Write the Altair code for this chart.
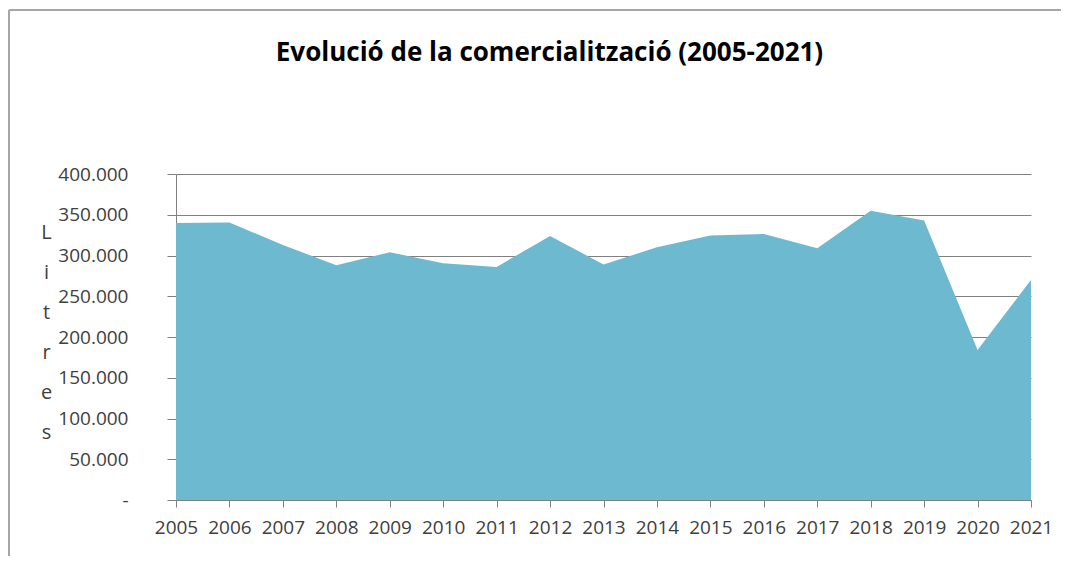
import altair as alt
import pandas as pd

years = list(range(2005, 2022))
litres = [340000, 340500, 313000, 288000, 304000, 290500, 286000, 324000, 289000,
          310000, 324500, 326500, 309000, 355000, 343000, 184000, 270000]
y_ticks = [0, 50000, 100000, 150000, 200000, 250000, 300000, 350000, 400000]
title_text = "Evolució de la comercialització (2005-2021)"
y_title = ["L", "i", "t", "r", "e", "s"]

df = pd.DataFrame({"year": years, "litres": litres})

FONT = "Open Sans"
TXT = "#404040"

area = alt.Chart(df).mark_area(color="#6cb9d0", opacity=1, interpolate="linear").encode(
    x=alt.X("year:Q",
            scale=alt.Scale(domain=[2005, 2021], nice=False, zero=False),
            axis=alt.Axis(values=years, format="d", title=None, grid=False,
                          labelFont=FONT, labelFontSize=19, labelColor=TXT,
                          labelPadding=11, tickSize=7, tickColor="#808080",
                          domainColor="#808080", labelFlush=False,
                          labelOverlap=False)),
    y=alt.Y("litres:Q",
            scale=alt.Scale(domain=[0, 400000], nice=False),
            axis=alt.Axis(values=y_ticks, title=y_title, titleAngle=0,
                          titleX=-130, titleY=64, titleAlign="center",
                          titleBaseline="alphabetic", titleLineHeight=40,
                          titleFont=FONT, titleFontSize=20, titleFontWeight="normal",
                          titleColor=TXT,
                          labelExpr="datum.value == 0 ? '-' : replace(format(datum.value, ','), ',', '.')",
                          labelFont=FONT, labelFontSize=19, labelColor=TXT,
                          labelPadding=39, tickSize=9, tickColor="#808080",
                          domainColor="#808080", gridColor="#808080",
                          gridWidth=1, gridOpacity=1)),
)

frame_top = alt.Chart(df).mark_rule(color="#a6a6a6", strokeWidth=2).encode(
    x=alt.value(-167), x2=alt.value(1000), y=alt.value(-164))
frame_left = alt.Chart(df).mark_rule(color="#a6a6a6", strokeWidth=2).encode(
    x=alt.value(-167), y=alt.value(-164), y2=alt.value(420))

chart = alt.layer(frame_top, frame_left, area).properties(
    width=855, height=326,
    view=alt.ViewBackground(stroke="transparent", strokeWidth=0),
    autosize=alt.AutoSizeParams(type="none"),
    padding={"left": 168, "top": 166, "right": 30, "bottom": 56},
    title=alt.TitleParams(title_text, font=FONT, fontSize=26, fontWeight="bold",
                          color="#000000", anchor="middle", frame="group",
                          dx=-54, offset=-78, baseline="alphabetic"),
).configure(
    background="white",
    style={"cell": {"stroke": "transparent", "strokeWidth": 0}},
).configure_view(stroke="transparent", strokeWidth=0)

chart.save("out.html", embed_options={"renderer": "svg", "actions": False})
